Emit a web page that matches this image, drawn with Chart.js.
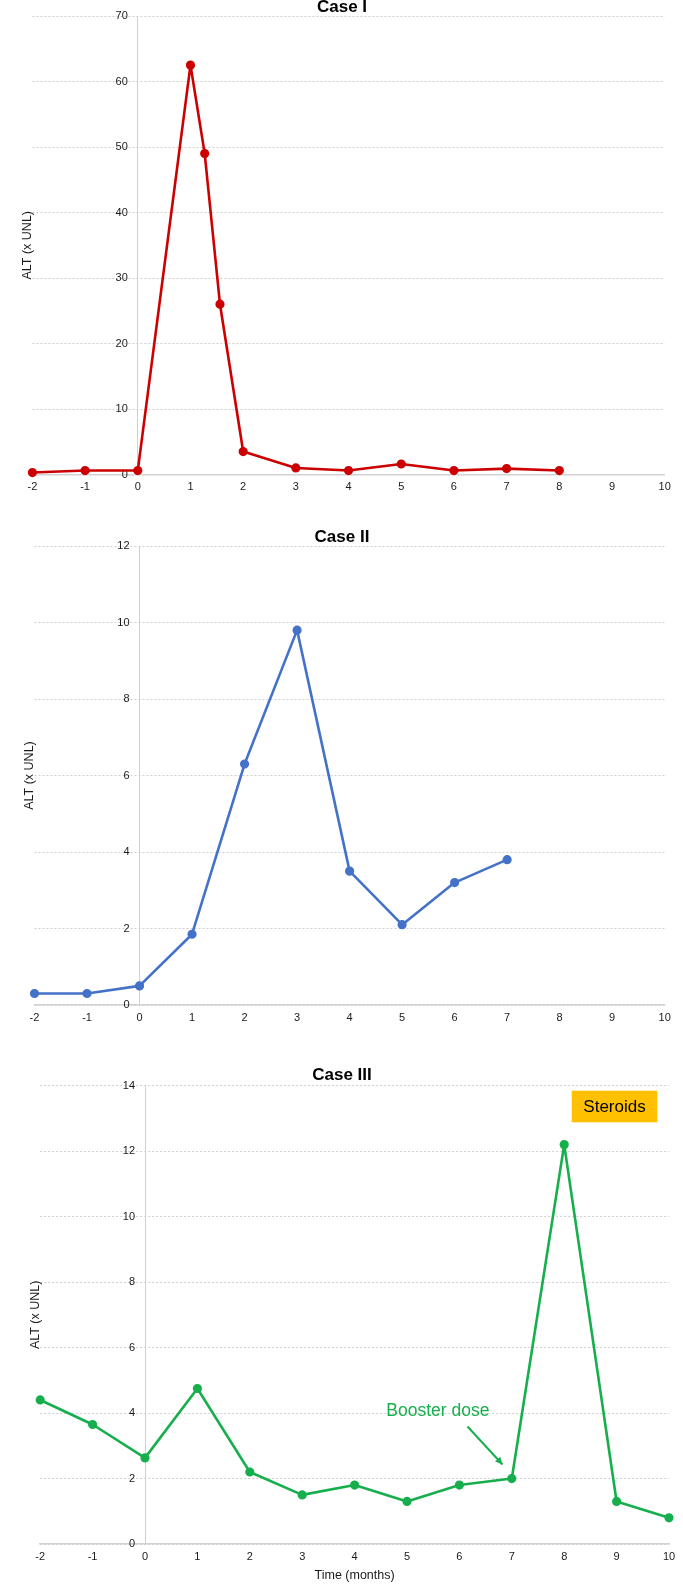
<!DOCTYPE html>
<html>
<head>
<meta charset="utf-8">
<script src="https://cdn.jsdelivr.net/npm/chart.js@4.4.1/dist/chart.umd.min.js"></script>
<style>
  html, body { margin: 0; padding: 0; background: #ffffff; width: 683px; height: 1587px; overflow: hidden; }
  canvas { position: absolute; left: 0; }
</style>
</head>
<body>
<canvas id="c1" width="683" height="500" style="top:0px"></canvas>
<canvas id="c2" width="683" height="510" style="top:520px"></canvas>
<canvas id="c3" width="683" height="537" style="top:1050px"></canvas>
<script>
// ---- data ----
const xMin = -2;
const xMax = 10;

const case1Months = [-2, -1, 0, 1, 1.27, 1.56, 2, 3, 4, 5, 6, 7, 8];
const case1ALT    = [0.3, 0.6, 0.6, 62.5, 49, 26, 3.5, 1.0, 0.6, 1.6, 0.6, 0.9, 0.6];

const case2Months = [-2, -1, 0, 1, 2, 3, 4, 5, 6, 7];
const case2ALT    = [0.3, 0.3, 0.5, 1.85, 6.3, 9.8, 3.5, 2.1, 3.2, 3.8];

const case3Months = [-2, -1, 0, 1, 2, 3, 4, 5, 6, 7, 8, 9, 10];
const case3ALT    = [4.4, 3.65, 2.63, 4.75, 2.2, 1.5, 1.8, 1.3, 1.8, 2.0, 12.2, 1.3, 0.8];

const caseTitles = ['Case I', 'Case II', 'Case III'];
const yMaxes = [70, 12, 14];
const ySteps = [10, 2, 2];
const yTitle = 'ALT (x UNL)';
const xTitle = 'Time (months)';
const boosterLabel = 'Booster dose';
const boosterIndex = 9;
const steroidsLabel = 'Steroids';

// ---- rendering ----
const FONT = '"Liberation Sans", Arial, Helvetica, sans-serif';
Chart.defaults.font.family = FONT;
Chart.defaults.color = '#1a1a1a';

function toPoints(xs, ys) { return xs.map((x, i) => ({ x: x, y: ys[i] })); }

// shift y tick labels left of the axis line (axis sits at x = 0)
const yLabelShiftPlugin = {
  id: 'yLabelShift',
  beforeDraw(chart) {
    const s = chart.scales.y;
    if (!s._shiftPatched) {
      const orig = s._computeLabelItems;
      s._computeLabelItems = function (ca) {
        const items = orig.call(this, ca);
        items.forEach(it => { if (it.options && it.options.translation) it.options.translation[0] -= 10; });
        return items;
      };
      s._shiftPatched = true;
      s._labelItems = null;
    }
  }
};

const annotatePlugin = {
  id: 'annotate',
  afterDraw(chart, args, o) {
    const ctx = chart.ctx, ca = chart.chartArea;
    ctx.save();
    // title
    ctx.fillStyle = '#000';
    ctx.font = 'bold 17px ' + FONT;
    ctx.textAlign = 'center';
    ctx.textBaseline = 'middle';
    ctx.fillText(o.title, 342, ca.top + o.titleDy);
    // y title
    ctx.font = '12.5px ' + FONT;
    ctx.fillStyle = '#1a1a1a';
    ctx.translate(ca.left - 5, (ca.top + ca.bottom) / 2);
    ctx.rotate(-Math.PI / 2);
    ctx.fillText(yTitle, 0, 0);
    ctx.restore();

    if (o.extras) {
      const xs = chart.scales.x, ys = chart.scales.y;
      ctx.save();
      // steroids box
      const bx = ca.right - 97.3, by = ca.top + 5, bw = 85.6, bh = 31.6;
      ctx.fillStyle = '#FFC000';
      ctx.fillRect(bx, by, bw, bh);
      ctx.fillStyle = '#000';
      ctx.font = '17px ' + FONT;
      ctx.textAlign = 'center';
      ctx.textBaseline = 'middle';
      ctx.fillText(steroidsLabel, bx + bw / 2, by + bh / 2 + 1);
      // booster annotation
      const px = xs.getPixelForValue(case3Months[boosterIndex]);
      const py = ys.getPixelForValue(case3ALT[boosterIndex]);
      const green = '#17AF4D';
      ctx.fillStyle = green;
      ctx.font = '17.5px ' + FONT;
      ctx.fillText(boosterLabel, px - 74, py - 67);
      const x1 = px - 44.3, y1 = py - 52, x2 = px - 9.3, y2 = py - 14;
      ctx.strokeStyle = green;
      ctx.lineWidth = 2;
      ctx.beginPath(); ctx.moveTo(x1, y1); ctx.lineTo(x2, y2); ctx.stroke();
      const ang = Math.atan2(y2 - y1, x2 - x1), hl = 8;
      ctx.beginPath();
      ctx.moveTo(x2, y2);
      ctx.lineTo(x2 - hl * Math.cos(ang - 0.45), y2 - hl * Math.sin(ang - 0.45));
      ctx.lineTo(x2 - hl * Math.cos(ang + 0.45), y2 - hl * Math.sin(ang + 0.45));
      ctx.closePath(); ctx.fill();
      ctx.restore();
    }
  }
};

function makeChart(id, months, values, color, idx, lay) {
  const xScale = {
    type: 'linear', min: xMin, max: xMax,
    ticks: { stepSize: 1, font: { size: 11 }, color: '#1a1a1a', padding: 6, maxRotation: 0 },
    grid: { display: false, drawTicks: false },
    border: { display: true, color: '#d2d2d2', width: 1.5 },
    afterFit(s) { s.height = lay.xh; }
  };
  if (lay.xTitle) {
    xScale.title = { display: true, text: xTitle, font: { size: 12.5, lineHeight: 1.2 }, color: '#1a1a1a', padding: { top: 0, bottom: 3.5 } };
  }
  return new Chart(document.getElementById(id), {
    type: 'line',
    data: {
      datasets: [{
        data: toPoints(months, values),
        borderColor: color, backgroundColor: color,
        pointBackgroundColor: color, pointBorderColor: color,
        borderWidth: 2.6, pointRadius: 3.3, pointHoverRadius: 3.3,
        borderJoinStyle: 'round', borderCapStyle: 'round',
        tension: 0, clip: false
      }]
    },
    options: {
      responsive: false, animation: false, devicePixelRatio: 1,
      layout: { padding: { top: lay.top, left: lay.left, right: lay.right, bottom: 0 } },
      plugins: {
        legend: { display: false }, tooltip: { enabled: false },
        annotate: { title: caseTitles[idx], titleDy: lay.titleDy, extras: !!lay.extras }
      },
      scales: {
        x: xScale,
        y: {
          position: { x: 0 }, min: 0, max: yMaxes[idx],
          ticks: { stepSize: ySteps[idx], font: { size: 11 }, color: '#1a1a1a', padding: 0 },
          grid: { color: '#cfcfcf', lineWidth: 1, drawTicks: true, tickLength: 10, tickColor: 'rgba(0,0,0,0)' },
          border: { display: true, color: '#cfcfcf', width: 1, dash: [2, 2] }
        }
      }
    },
    plugins: [yLabelShiftPlugin, annotatePlugin]
  });
}

makeChart('c1', case1Months, case1ALT, '#CC0000', 0, { top: 16, left: 32.4, right: 18.3, xh: 25.5, titleDy: -8.5 });
makeChart('c2', case2Months, case2ALT, '#4472C8', 1, { top: 26, left: 34.5, right: 18.3, xh: 25, titleDy: -8.3 });
makeChart('c3', case3Months, case3ALT, '#17AF4D', 2, { top: 35.7, left: 40.2, right: 14, xh: 43, titleDy: -10.7, xTitle: true, extras: true });
</script>
</body>
</html>
